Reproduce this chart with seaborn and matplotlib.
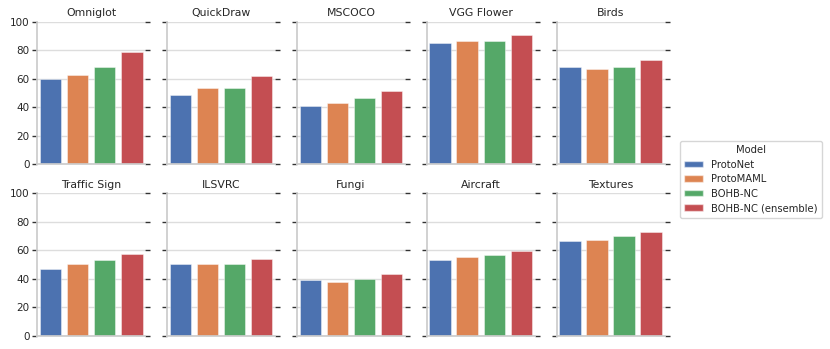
import matplotlib
matplotlib.use("Agg")
import matplotlib.pyplot as plt
import seaborn as sns
import pandas as pd
from matplotlib.patches import Patch

datasets = ["Omniglot", "QuickDraw", "MSCOCO", "VGG Flower", "Birds",
            "Traffic Sign", "ILSVRC", "Fungi", "Aircraft", "Textures"]
models = ["ProtoNet", "ProtoMAML", "BOHB-NC", "BOHB-NC (ensemble)"]

protonet = [59.5, 48.3, 40.5, 84.8, 68.4, 46.9, 50.2, 39.4, 53.0, 66.3]
protomaml = [62.3, 53.2, 42.9, 86.4, 66.5, 50.6, 50.6, 37.5, 55.1, 67.5]
bohb_nc = [68.0, 53.4, 46.6, 86.7, 68.4, 53.4, 50.2, 40.1, 56.5, 70.3]
bohb_ens = [78.7, 62.1, 51.5, 90.7, 72.9, 57.2, 54.1, 43.6, 59.3, 72.7]

rows = []
for model, vals in zip(models, [protonet, protomaml, bohb_nc, bohb_ens]):
    for d, v in zip(datasets, vals):
        rows.append({"Dataset": d, "Model": model, "Accuracy": v})
df = pd.DataFrame(rows)

FS = 7.5
TFS = 7.8
LFS = 7.2
sns.set_theme(style="whitegrid", palette="deep", rc={
    "ytick.left": True, "ytick.right": True,
    "ytick.major.size": 3.5, "ytick.major.width": 1.0, "ytick.color": "#333333",
    "ytick.labelcolor": "#262626",
    "axes.edgecolor": "#cccccc", "grid.color": "#dddddd",
    "font.size": FS, "axes.titlesize": TFS, "ytick.labelsize": FS,
    "legend.fontsize": LFS, "legend.title_fontsize": LFS,
})
plt.rcParams['font.family'] = ['DejaVu Sans']

palette = sns.color_palette("deep", 4)
g = sns.catplot(data=df, x="Model", y="Accuracy", hue="Model", col="Dataset",
                col_wrap=5, kind="bar", order=models, hue_order=models,
                col_order=datasets, legend=False, errorbar=None,
                palette=palette, saturation=1,
                edgecolor=(1, 1, 1, 0.5), linewidth=0.6,
                height=1.5, aspect=1.0, sharey=True)
g.set_titles("{col_name}")
g.set(ylim=(0, 100), yticks=[0, 20, 40, 60, 80, 100], xlabel="", ylabel="")
for i, ax in enumerate(g.axes.flat):
    ax.set_xticklabels([])
    ax.tick_params(axis="x", length=0)
    ax.tick_params(axis="y", which="both", left=True, right=True,
                   direction="out", labelleft=(i % 5 == 0), labelright=False, pad=2)
    ax.set_title(ax.get_title(), fontsize=TFS, pad=4, color="#262626")

fig = g.figure
fig.set_size_inches(8.3, 3.49)
fig.subplots_adjust(left=0.0446, right=0.801, top=0.938, bottom=0.038,
                    wspace=0.2, hspace=0.206)

handles = [Patch(facecolor=c, edgecolor=(1, 1, 1, 0.5), label=m)
           for c, m in zip(palette, models)]
fig.legend(handles=handles, title="Model", loc="center left",
           bbox_to_anchor=(0.813, 0.487), frameon=True,
           handlelength=1.9, handleheight=0.6, borderpad=0.45,
           labelspacing=0.45, handletextpad=0.8,
           edgecolor="#cccccc", fancybox=True)

fig.savefig("out.png", dpi=100)
